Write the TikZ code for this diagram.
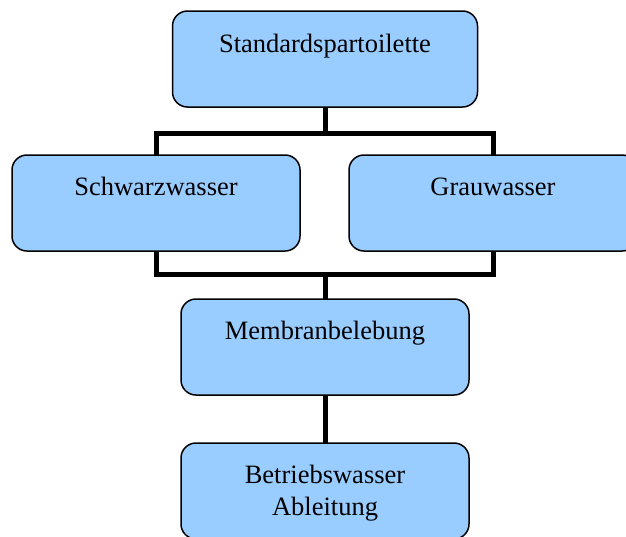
\documentclass[tikz,border=0pt]{standalone}
\usepackage{fontspec}
\setmainfont{Liberation Serif}
\usetikzlibrary{backgrounds}
\definecolor{boxblue}{HTML}{99CCFF}
\tikzset{
  box/.style={draw=black, line width=1.5pt, fill=boxblue, rounded corners=15pt,
    minimum width=288pt, minimum height=96pt, inner sep=0pt, outer sep=0pt},
  label text/.style={anchor=base, inner sep=0pt, align=center,
    font=\fontsize{26.5}{32}\selectfont},
  conn/.style={line width=5pt, draw=black, line join=miter}
}
\begin{document}
\begin{tikzpicture}[x=1pt, y=-1pt]
  \useasboundingbox (0,0) rectangle (626,536);
  \clip (0,0) rectangle (626,536);

  % boxes
  \node[box, minimum width=305pt] (top) at (325,59) {};
  \node[box] (left)  at (156,203) {};
  \node[box] (right) at (493,203) {};
  \node[box] (mem)   at (325,347) {};
  \node[box] (out)   at (325,491) {};

  % box labels (the base anchor of a two-line label sits on its last line)
  \node[label text] (ttop)   at ([yshift=-41pt]top.north)   {Standardspartoilette};
  \node[label text] (tleft)  at ([yshift=-40pt]left.north)  {Schwarzwasser};
  \node[label text] (tright) at ([yshift=-40pt]right.north) {Grauwasser};
  \node[label text] (tmem)   at ([yshift=-40pt]mem.north)   {Membranbelebung};
  \node[label text] (tout)   at ([yshift=-72pt]out.north)   {Betriebswasser\\Ableitung};

  % junction points of the branching lines
  \coordinate (j1) at (325,133);
  \coordinate (j2) at (325,274);

  \begin{pgfonlayer}{background}
    \draw[conn] (top.south) -- (j1);
    \draw[conn] (left.north) |- (j1) -| (right.north);
    \draw[conn] (left.south) |- (j2) -| (right.south);
    \draw[conn] (j2) -- (mem.north);
    \draw[conn] (mem.south) -- (out.north);
  \end{pgfonlayer}
\end{tikzpicture}
\end{document}
